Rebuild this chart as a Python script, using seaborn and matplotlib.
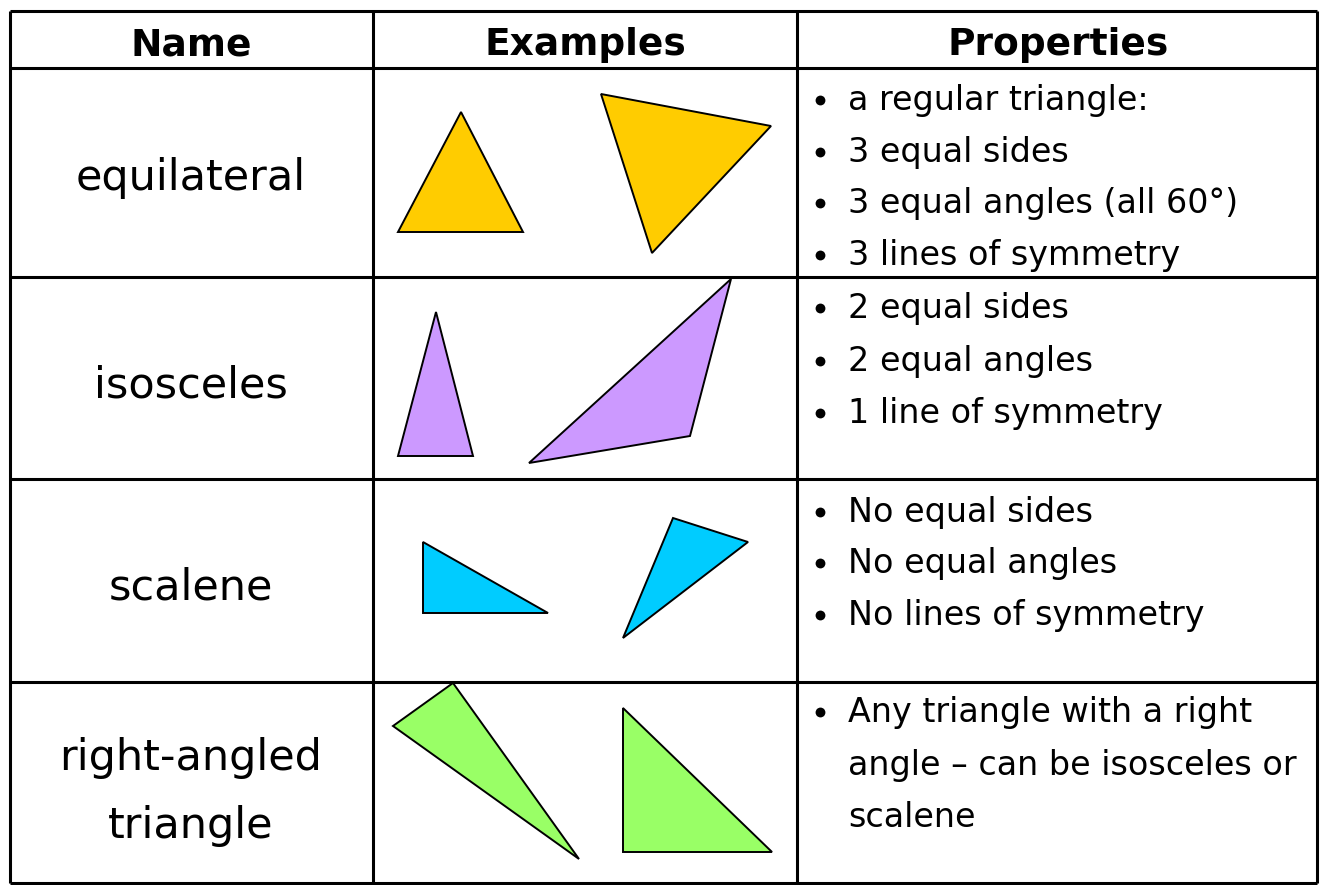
import matplotlib
matplotlib.use("Agg")
import matplotlib.pyplot as plt
import seaborn as sns

# ---- data ----
headers = ["Name", "Examples", "Properties"]
names = ["equilateral", "isosceles", "scalene", "right-angled\ntriangle"]
colors = ["#FFCC00", "#CC99FF", "#00CCFF", "#99FF66"]

properties = [
    ["a regular triangle:", "3 equal sides", "3 equal angles (all 60°)", "3 lines of symmetry"],
    ["2 equal sides", "2 equal angles", "1 line of symmetry"],
    ["No equal sides", "No equal angles", "No lines of symmetry"],
    ["Any triangle with a right", "angle \u2013 can be isosceles or", "scalene"],
]
bullet_flags = [
    [True, True, True, True],
    [True, True, True],
    [True, True, True],
    [True, False, False],
]

# triangle vertices (picture coordinates, y down)
equi_a_x = [398, 461, 523]; equi_a_y = [232, 112, 232]
equi_b_x = [601, 771, 652]; equi_b_y = [94, 126, 253]
isos_a_x = [398, 436, 473]; isos_a_y = [456, 312, 456]
isos_b_x = [529, 731, 690]; isos_b_y = [463, 279, 436]
scal_a_x = [423, 423, 548]; scal_a_y = [542, 613, 613]
scal_b_x = [673, 748, 623]; scal_b_y = [518, 542, 638]
right_a_x = [393, 453, 579]; right_a_y = [726, 683, 859]
right_b_x = [623, 623, 772]; right_b_y = [708, 852, 852]

triangles = [
    [(equi_a_x, equi_a_y), (equi_b_x, equi_b_y)],
    [(isos_a_x, isos_a_y), (isos_b_x, isos_b_y)],
    [(scal_a_x, scal_a_y), (scal_b_x, scal_b_y)],
    [(right_a_x, right_a_y), (right_b_x, right_b_y)],
]

# ---- layout ----
W, H = 1321, 885
col_edges = [10, 373, 797, 1317]
row_edges = [11, 68, 277, 479, 682, 883]
header_x = [191, 585, 1058]
header_base = 55
name_x = 191
name_base = [[190], [397], [600], [770, 838]]
prop_base = [
    [110, 162, 213, 265],
    [318, 371, 423],
    [522, 573, 625],
    [722, 775, 827],
]
bullet_x = 820
bullet_rise = 10
text_x = 848

sns.set_theme(style="white")
plt.rcParams["font.family"] = ["DejaVu Sans"]

fig = plt.figure(figsize=(W / 100, H / 100), dpi=100)
ax = fig.add_axes([0, 0, 1, 1])
ax.set_xlim(0, W)
ax.set_ylim(H, 0)
ax.axis("off")
fig.patch.set_facecolor("white")

# grid lines
ax.hlines(row_edges, col_edges[0], col_edges[-1], colors="black", linewidth=2.2, zorder=3)
ax.vlines(col_edges, row_edges[0], row_edges[-1], colors="black", linewidth=2.2, zorder=3)

# headers
for hx, h in zip(header_x, headers):
    ax.text(hx, header_base, h, ha="center", va="baseline", fontsize=27,
            fontweight="bold", color="black")

# names
for nm, bases in zip(names, name_base):
    for line, b in zip(nm.split("\n"), bases):
        ax.text(name_x, b, line, ha="center", va="baseline", fontsize=31, color="black")

# triangles
for tris, c in zip(triangles, colors):
    for xs, ys in tris:
        ax.fill(xs, ys, facecolor=c, edgecolor="black", linewidth=1.4, zorder=2)

# properties
for props, flags, bases in zip(properties, bullet_flags, prop_base):
    for p, f, b in zip(props, flags, bases):
        if f:
            ax.scatter([bullet_x], [b - bullet_rise], s=50, color="black",
                       marker="o", linewidths=0, zorder=4)
        ax.text(text_x, b, p, ha="left", va="baseline", fontsize=24, color="black")

fig.savefig("out.png", dpi=100, facecolor="white")
